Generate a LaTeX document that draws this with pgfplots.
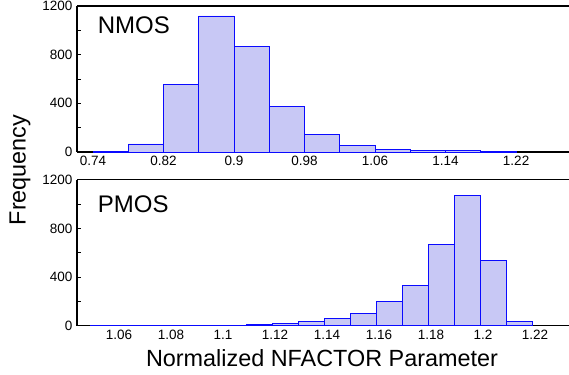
\documentclass[border=0pt]{standalone}
\usepackage{fontspec}
\setmainfont{Liberation Sans}
\usepackage{pgfplots}
\pgfplotsset{compat=1.18}
\definecolor{barfill}{RGB}{200,200,245}
\definecolor{baredge}{RGB}{10,10,255}
\begin{document}
\begin{tikzpicture}
\pgfplotsset{
  hist/.style={
    scale only axis, width=492pt, height=146pt,
    axis x line*=box, axis y line*=left,
    axis line style={-, line width=1.1pt, black},
    ymin=0, ymax=1200,
    ytick={0,400,800,1200}, yticklabels={0,400,800,1200},
    minor y tick num=1,
    tick align=inside,
    major tick length=4pt, minor tick length=4pt,
    every tick/.style={black, line width=0.8pt},
    x tick style={draw=none},
    tick label style={font=\fontsize{13.5}{15}\selectfont},
    /pgf/number format/assume math mode=true,
    yticklabel style={xshift=-1pt},
    xticklabel style={yshift=-1pt},
    clip=false,
  },
  histbar/.style={ybar interval, draw=baredge, line width=0.9pt, fill=barfill},
}
% Top: NMOS
\begin{axis}[hist, at={(0,173.7pt)}, anchor=south west,
  xmin=0.7218, xmax=1.280,
  xtick={0.74,0.82,0.90,0.98,1.06,1.14,1.22},
  xticklabels={0.74,0.82,0.9,0.98,1.06,1.14,1.22}]
\addplot[histbar] coordinates {
 (0.74,4) (0.78,66) (0.82,556) (0.86,1118) (0.90,869) (0.94,373)
 (0.98,145) (1.02,55) (1.06,22) (1.10,10) (1.14,10) (1.18,3) (1.22,0)};
\node[anchor=base west, font=\fontsize{24}{26}\selectfont] at (rel axis cs:0,1) [xshift=17.3pt, yshift=-27.3pt] {NMOS};
\end{axis}
% Bottom: PMOS
\begin{axis}[hist, at={(0,0)}, anchor=south west,
  xmin=1.045, xmax=1.2342,
  xtick={1.06,1.08,1.10,1.12,1.14,1.16,1.18,1.20,1.22},
  xticklabels={1.06,1.08,1.1,1.12,1.14,1.16,1.18,1.2,1.22},
  xticklabel style={xshift=3pt}]
\addplot[histbar] coordinates {
 (1.05,1) (1.06,1) (1.07,1) (1.08,1) (1.09,3) (1.10,3) (1.11,10) (1.12,16)
 (1.13,38) (1.14,60) (1.15,102) (1.16,198) (1.17,327) (1.18,667)
 (1.19,1071) (1.20,533) (1.21,38) (1.22,0)};
\node[anchor=base west, font=\fontsize{24}{26}\selectfont] at (rel axis cs:0,1) [xshift=17.3pt, yshift=-33.3pt] {PMOS};
\end{axis}
\node[rotate=90, anchor=base, font=\fontsize{23.4}{26}\selectfont] at (-51.3pt,155.7pt) {Frequency};
\node[anchor=base, font=\fontsize{23.4}{26}\selectfont] at (245pt,-41pt) {Normalized NFACTOR Parameter};
\pgfresetboundingbox
\path[use as bounding box] (-77pt,-48.3pt) rectangle (492pt,325.7pt);
\end{tikzpicture}
\end{document}
